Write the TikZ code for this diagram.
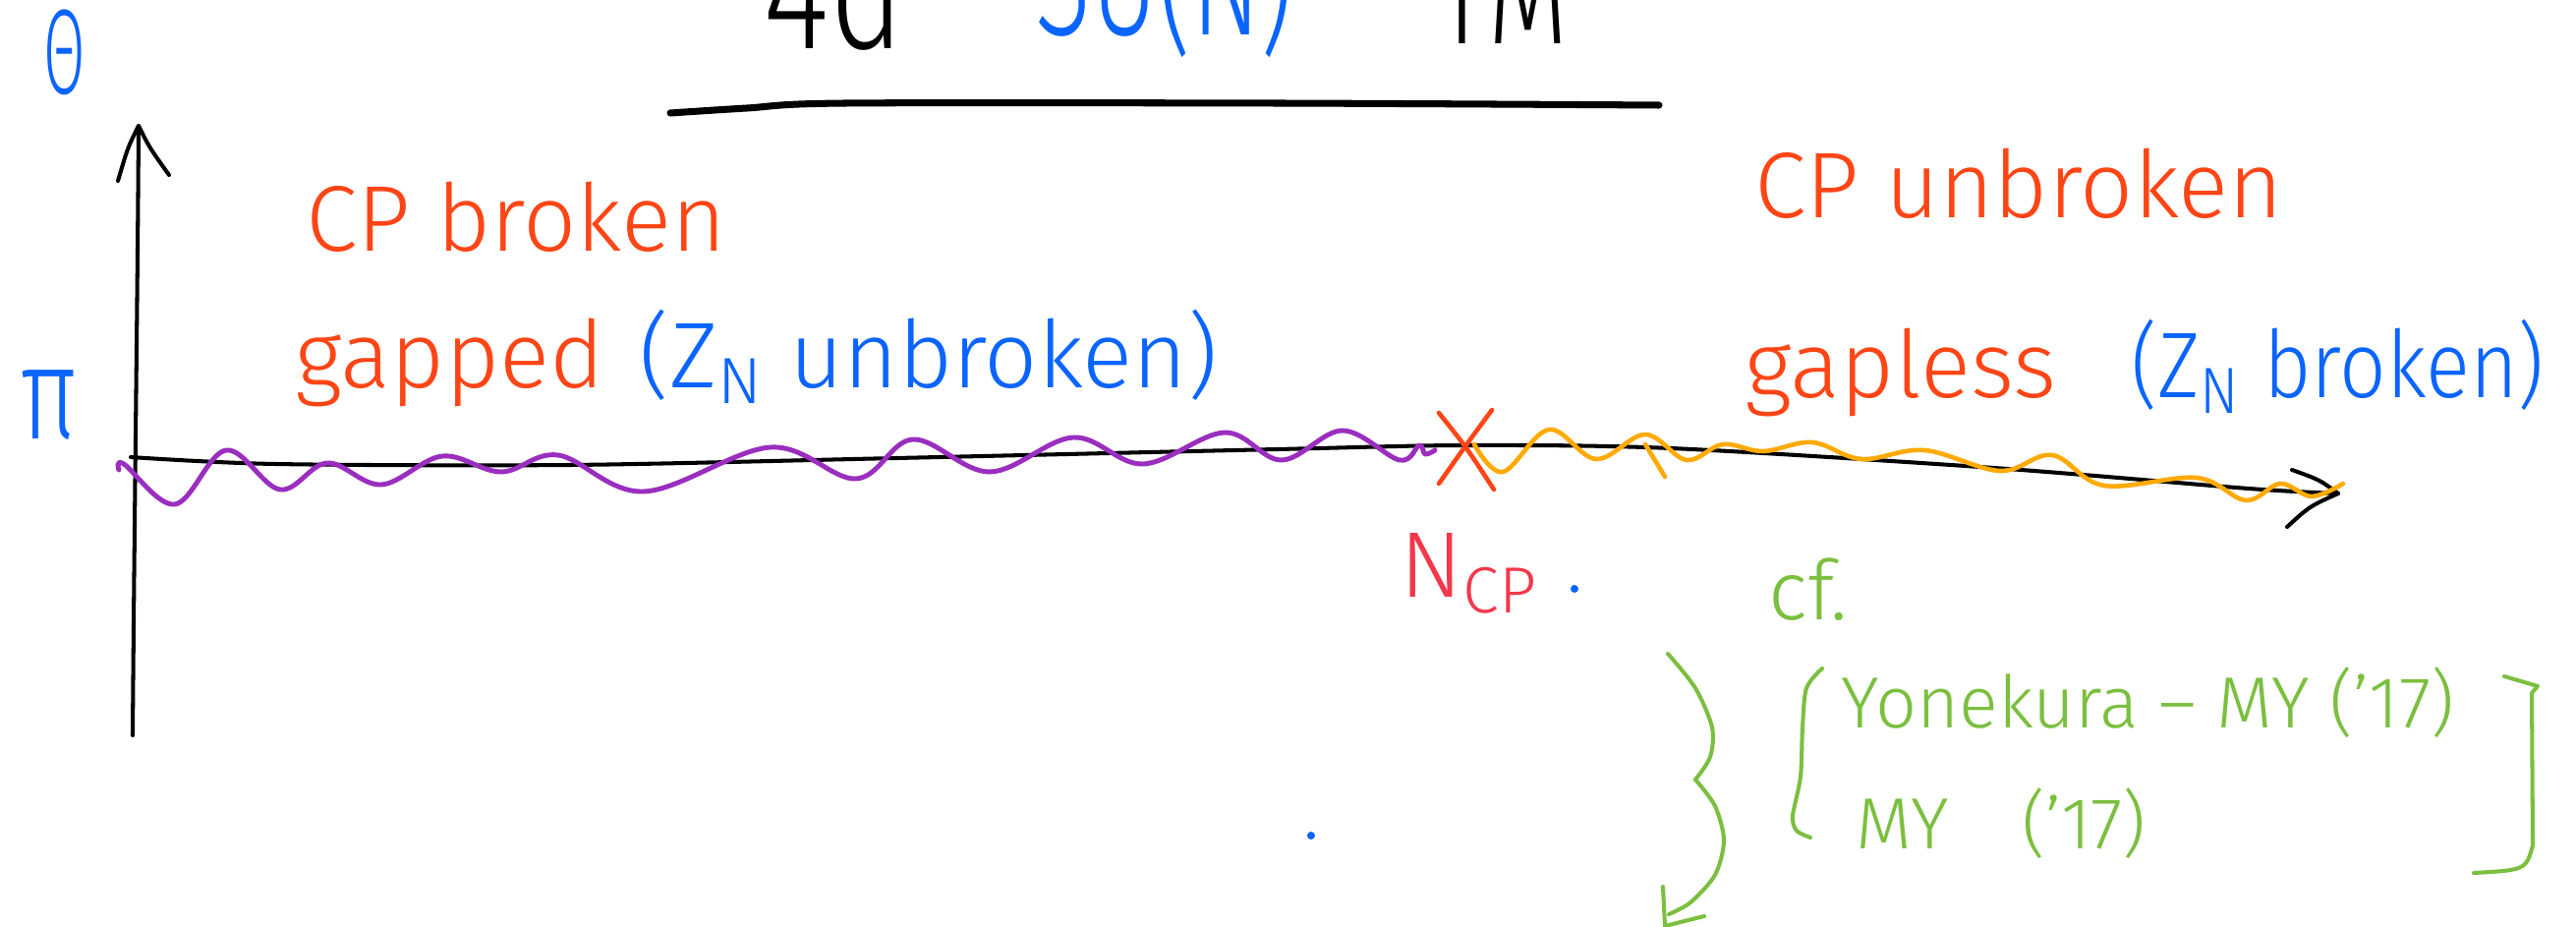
\documentclass[tikz,border=0pt]{standalone}
\usepackage{graphicx}
\usepackage{fontspec}
\setmainfont{Fira Sans}[UprightFont=* Light]
\usetikzlibrary{positioning}

\definecolor{inkred}{HTML}{FF4516}
\definecolor{inkpink}{HTML}{F2384A}
\definecolor{inkblue}{HTML}{0A64FF}
\definecolor{inkpurple}{HTML}{9A2EBF}
\definecolor{inkorange}{HTML}{FFAA00}
\definecolor{inkgreen}{HTML}{7BBF3F}

\newcommand{\narrow}[2]{\scalebox{#1}[1]{#2}}

\begin{document}
\begin{tikzpicture}[x=0.01cm, y=-0.01cm,
    pen/.style={line width=1.15pt, line cap=round, line join=round},
    hand/.style={inner sep=0pt, anchor=base west, font=\fontsize{27}{30}\selectfont},
    big/.style={hand, font=\fontsize{48}{50}\selectfont},
    refs/.style={hand, text=inkgreen, font=\fontsize{21}{24}\selectfont}]

    \useasboundingbox (0,0) rectangle (2621,943);

    % title (cut at the top of the page)
    \node[big, text=black] (title4d) at (776,50) {\narrow{0.77}{4d}};
    \node[big, text=inkblue] (titlesu) at (1053,36) {\narrow{0.62}{SU(N)}};
    \node[big, text=black] (titleym) at (1460,45) {\narrow{0.62}{YM}};
    \draw[pen, line width=2pt] plot[smooth] coordinates {(682,115) (760,110) (860,105) (1300,105) (1688,107)};

    % axes
    \coordinate (origin) at (133,465);
    \coordinate (ytip) at (141,128);
    \coordinate (xtip) at (2379,502);
    \draw[pen] (135,748) .. controls (137,500) and (140,300) .. (ytip);
    \draw[pen] (120,184) .. controls (130,150) .. (ytip) .. controls (152,150) .. (172,178);
    \draw[pen] plot[smooth] coordinates {(origin) (280,472) (580,473) (912,466) (1300,457) (1491,453) (1700,456) (2029,476) (2288,497) (xtip)};
    \draw[pen] (2332,478) .. controls (2360,488) .. (xtip) .. controls (2350,515) .. (2327,536);

    % axis labels
    \node[hand, text=inkblue, anchor=base, font=\fontsize{35}{40}\selectfont] (theta) at (66,96) {\narrow{0.5}{Θ}};
    \node[hand, text=inkblue, anchor=base, font=\fontsize{38}{40}\selectfont] (piv) at (50,447) {\narrow{0.75}{π}};

    % phases
    \node[hand, text=inkred] (cpb) at (311,256) {CP broken};
    \node[hand, text=inkred] (gapped) at (300,395) {gapped};
    \node[hand, text=inkblue, base right=0.35cm of gapped] (znu) {(Z\textsubscript{N} unbroken)};
    \node[hand, text=inkred] (cpu) at (1785,222) {CP unbroken};
    \node[hand, text=inkred] (gapless) at (1775,405) {gapless};
    \node[hand, text=inkblue, base right=0.75cm of gapless] (znb) {\narrow{0.88}{(Z\textsubscript{N} broken)}};

    % wavy lines
    \draw[pen, inkpurple, line width=1.4pt] plot[smooth, tension=0.6] coordinates {(121,478) (126,472) (178,513) (230,458) (285,498) (333,471) (388,493) (450,464) (510,480) (568,463) (655,500) (784,455) (871,487) (929,447) (1007,480) (1092,445) (1163,472) (1246,440) (1304,468) (1366,438) (1424,468) (1444,453) (1450,462) (1460,458)};
    \draw[pen, inkorange, line width=1.3pt] plot[smooth, tension=0.6] coordinates {(1500,452) (1529,480) (1576,437) (1624,467) (1674,442) (1716,468) (1753,452) (1794,459) (1844,450) (1894,467) (1958,458) (2035,479) (2088,463) (2141,494) (2235,486) (2285,509) (2320,492) (2352,505) (2384,492)};
    \draw[pen, inkorange, line width=1.3pt] (1674,452) -- (1694,485);

    % critical point
    \coordinate (xcp) at (1492,456);
    \draw[pen, inkred, line width=1.3pt] (1464,420) .. controls (1492,455) .. (1520,498);
    \draw[pen, inkred, line width=1.3pt] (1518,417) .. controls (1490,455) .. (1464,492);
    \node[hand, text=inkpink] (ncp) at (1424,607) {N\textsubscript{CP}};
    \fill[inkblue] (1602,599) circle (4);
    \fill[inkblue] (1334,850) circle (4);

    % references
    \node[hand, text=inkgreen, font=\fontsize{24}{26}\selectfont] (cf) at (1799,630) {cf.};
    \node[refs] (ref1) at (1873,740) {Yonekura – MY ('17)};
    \node[refs] (ref2) at (1888,863) {MY\quad('17)};
    \draw[pen, inkgreen] plot[smooth] coordinates {(1854,680) (1838,700) (1834,740) (1832,790) (1824,830) (1828,845) (1842,852)};
    \draw[pen, inkgreen] (2548,688) -- (2582,698) -- (2576,705) -- (2577,860) .. controls (2570,885) .. (2517,888);
    \draw[pen, inkgreen] plot[smooth] coordinates {(1697,665) (1725,700) (1742,740) (1740,770) (1725,793)};
    \draw[pen, inkgreen] plot[smooth] coordinates {(1725,793) (1745,820) (1754,855) (1745,890) (1720,918) (1698,930)};
    \draw[pen, inkgreen] (1692,902) -- (1694,942) -- (1734,932);

\end{tikzpicture}
\end{document}
